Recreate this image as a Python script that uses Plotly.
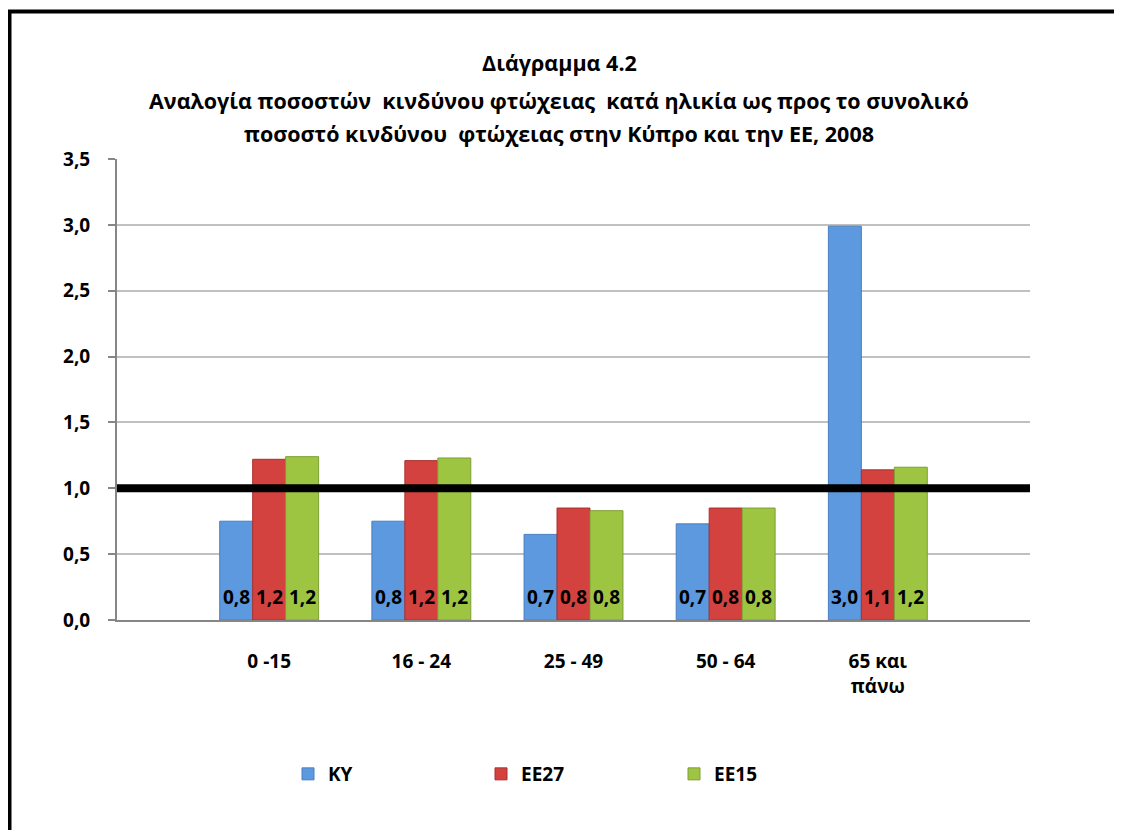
import plotly.graph_objects as go

# ---- data ----
categories = ["0 -15", "16 - 24", "25 - 49", "50 - 64", "65 και<br>πάνω"]
series_names = ["ΚΥ", "ΕΕ27", "ΕΕ15"]
ky_values = [0.75, 0.75, 0.65, 0.73, 2.99]
ee27_values = [1.22, 1.21, 0.85, 0.85, 1.14]
ee15_values = [1.24, 1.23, 0.83, 0.85, 1.16]
ky_labels = ["0,8", "0,8", "0,7", "0,7", "3,0"]
ee27_labels = ["1,2", "1,2", "0,8", "0,8", "1,1"]
ee15_labels = ["1,2", "1,2", "0,8", "0,8", "1,2"]
reference_level = 1.0
y_ticks = [0, 0.5, 1.0, 1.5, 2.0, 2.5, 3.0, 3.5]
y_tick_labels = ["0,0", "0,5", "1,0", "1,5", "2,0", "2,5", "3,0", "3,5"]
title_lines = [
    "Διάγραμμα 4.2",
    "Αναλογία ποσοστών\u00a0 κινδύνου φτώχειας\u00a0 κατά ηλικία ως προς το συνολικό",
    "ποσοστό κινδύνου\u00a0 φτώχειας στην Κύπρο και την ΕΕ, 2008",
]

colors = ["#5C99DF", "#D3423F", "#9DC542"]
edge_colors = ["#4A7FC0", "#A8302D", "#7E9E33"]
FONT = "Open Sans"

W, H = 1122, 830
OFF = 8  # page body margin
# target screen geometry of plot area
SX0, SX1, SY0, SY1 = 117, 1030, 159, 620
ml, mt = SX0 - OFF, SY0 - OFF
mr, mb = W - (SX1 - OFF), H - (SY1 - OFF)
pw, ph = W - ml - mr, H - mt - mb


def px_x(sx):
    return (sx - OFF - ml) / pw


def px_y(sy):
    return 1 - (sy - OFF - mt) / ph


BARGAP = 0.35
n_series = 3
xmin, xmax = -1, 5
bar_px = (1 - BARGAP) / n_series * pw / (xmax - xmin)

fig = go.Figure()
annotations = []
for i, (name, vals, labs, col, ec) in enumerate(zip(
    series_names,
    [ky_values, ee27_values, ee15_values],
    [ky_labels, ee27_labels, ee15_labels],
    colors, edge_colors,
)):
    fig.add_trace(go.Bar(
        x=categories, y=vals, name=name,
        marker=dict(color=col, line=dict(color=ec, width=1)),
        hoverinfo="skip",
    ))
    for cat, lab in zip(categories, labs):
        annotations.append(dict(
            x=cat, y=0, xref="x", yref="y", text=lab, showarrow=False,
            xanchor="center", yanchor="middle",
            xshift=(i - (n_series - 1) / 2) * bar_px, yshift=23,
            font=dict(family=FONT, size=19, color="black", weight="bold"),
        ))

title_y = [63, 100, 133]
for line, ty in zip(title_lines, title_y):
    annotations.append(dict(
        x=px_x(559), y=px_y(ty), xref="paper", yref="paper",
        xanchor="center", yanchor="middle", text=line, showarrow=False,
        font=dict(family=FONT, size=21.5, color="black", weight="bold"),
    ))

shapes = [
    dict(type="line", xref="paper", yref="y", x0=0, x1=1,
         y0=reference_level, y1=reference_level,
         line=dict(color="black", width=8), layer="above"),
    # outer frame (left and top edges)
    dict(type="line", xref="paper", yref="paper",
         x0=px_x(9.5), x1=px_x(9.5), y0=px_y(900), y1=px_y(11.5),
         line=dict(color="black", width=4)),
    dict(type="line", xref="paper", yref="paper",
         x0=px_x(7.5), x1=px_x(1200), y0=px_y(11.5), y1=px_y(11.5),
         line=dict(color="black", width=4)),
]

fig.update_layout(
    width=W, height=H,
    margin=dict(l=ml, r=mr, t=mt, b=mb, autoexpand=False),
    paper_bgcolor="white", plot_bgcolor="white",
    barmode="group", bargap=BARGAP, bargroupgap=0,
    separators=",.",
    font=dict(family=FONT, color="black"),
    xaxis=dict(
        type="category", range=[xmin, xmax],
        showgrid=False, showline=True, linecolor="#868686", linewidth=2,
        ticks="", tickfont=dict(family=FONT, size=19, weight="bold"),
        ticklabelstandoff=23,
    ),
    yaxis=dict(
        range=[0, 3.5], tickvals=y_ticks, ticktext=y_tick_labels,
        showgrid=True, gridcolor="#C0C0C0", gridwidth=2,
        showline=True, linecolor="#868686", linewidth=2,
        ticks="outside", ticklen=7, tickcolor="#868686", tickwidth=2,
        tickfont=dict(family=FONT, size=19, weight="bold"),
        ticklabelstandoff=14, zeroline=False,
    ),
    legend=dict(
        orientation="h", x=px_x(288), xanchor="left",
        y=px_y(755), yanchor="top",
        entrywidth=148, entrywidthmode="pixels",
        font=dict(family=FONT, size=19, weight="bold"),
        traceorder="normal",
    ),
    shapes=shapes,
    annotations=annotations,
    showlegend=True,
)

fig.write_html("out.html")
